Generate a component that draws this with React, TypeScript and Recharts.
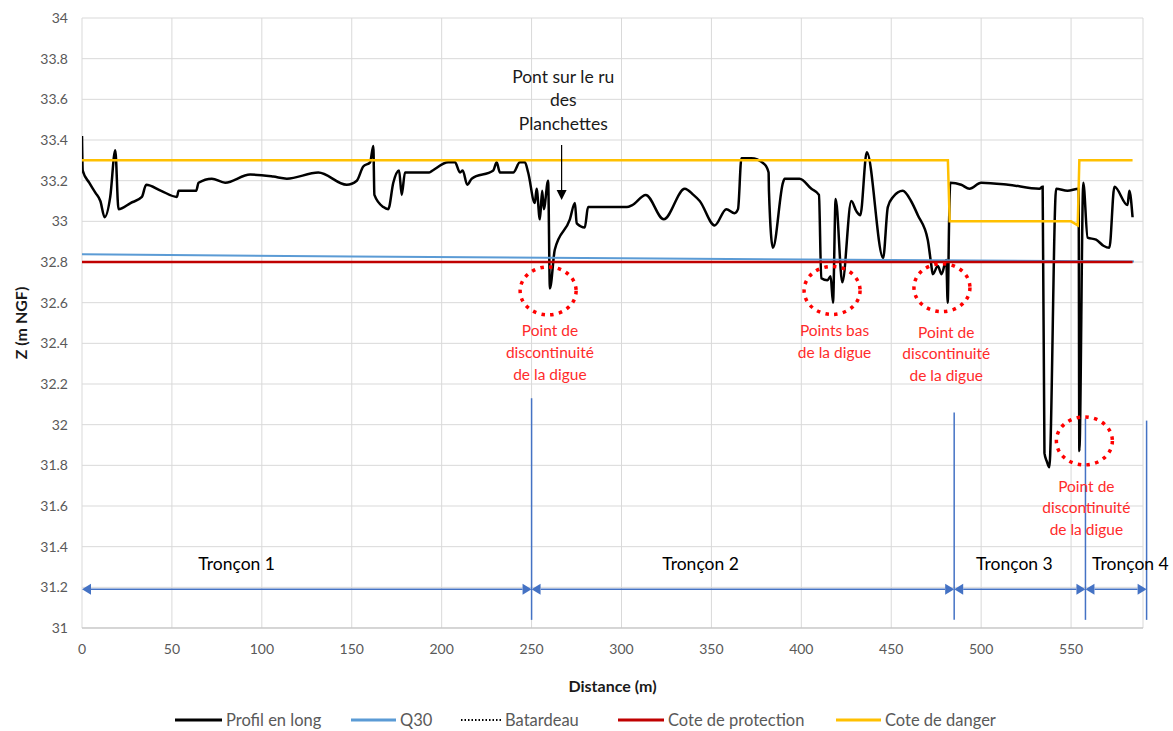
import React from "react";
import {
  LineChart,
  Line,
  XAxis,
  YAxis,
  CartesianGrid,
  ReferenceLine,
  ReferenceDot,
} from "recharts";

// ---------- DATA ----------
const xTicks = [0, 50, 100, 150, 200, 250, 300, 350, 400, 450, 500, 550];
const yTicks = [31, 31.2, 31.4, 31.6, 31.8, 32, 32.2, 32.4, 32.6, 32.8, 33, 33.2, 33.4, 33.6, 33.8, 34];

const profilDistance = [
  0, 0.4, 4, 7.5, 10.2, 12.6, 15.7, 18.5, 20.3, 27, 33.3, 35.7, 44, 52.8, 53.7, 63.5, 64.8, 72.2, 79.6,
  93.5, 106.3, 113.9, 131.4, 147.2, 152.8, 156.4, 160.2, 162.0, 162.6, 167.6, 170.3, 173.1, 176.3,
  177.8, 179.6, 193.1, 195.0, 203.7, 207.4, 210.2, 211.7, 214.2, 216.7, 228.7, 230.6, 232.4, 239.8,
  243.5, 246.3, 248.1, 251.8, 252.8, 254.6, 255.9, 256.8, 259.2, 260.2, 262.9, 271.3, 274.1, 275.1,
  279.6, 281.4, 303.0, 306, 313.5, 323.5, 335.2, 340, 343.5, 351.8, 358.3, 362.9, 364.8, 366.7,
  372.2, 379.6, 381.8, 382.0, 384.2, 389.8, 390.7, 399.0, 405.6, 409.8, 411.1, 414.5, 416.3, 417.6,
  419.1, 422.8, 427.8, 430.6, 432.8, 436.4, 445.5, 448.1, 451, 456.4, 461, 464.8, 470.3, 472.2,
  473.1, 475.9, 478, 480.6, 481.4, 482.2, 482.8, 488.9, 493.5, 500.0, 515, 532.4, 534.2, 535.2,
  536.5, 537.9, 541.7, 548, 554.2, 554.6, 556.8, 559.2, 563.9, 568, 571.3, 574.1, 581.4, 582.4, 584.2,
];
const profilZ = [
  33.42, 33.25, 33.19, 33.14, 33.1, 33.02, 33.12, 33.35, 33.06, 33.09, 33.12, 33.18, 33.15, 33.12, 33.15, 33.15, 33.19, 33.21, 33.19,
  33.23, 33.22, 33.21, 33.24, 33.18, 33.2, 33.27, 33.29, 33.37, 33.13, 33.07, 33.06, 33.19, 33.25,
  33.13, 33.24, 33.24, 33.25, 33.29, 33.29, 33.24, 33.25, 33.18, 33.21, 33.25, 33.29, 33.24, 33.24,
  33.29, 33.29, 33.24, 33.09, 33.16, 33.01, 33.15, 33.06, 33.2, 32.67, 32.86, 33.01, 33.09, 32.99,
  32.97, 33.07, 33.07, 33.08, 33.13, 33.01, 33.16, 33.13, 33.1, 32.98, 33.06, 33.04, 33.06, 33.31,
  33.31, 33.28, 33.24, 33.15, 32.87, 33.19, 33.21, 33.21, 33.16, 33.13, 32.72, 32.71, 32.73, 32.6,
  33.11, 32.7, 33.1, 33.05, 33.03, 33.34, 32.82, 33.07, 33.12, 33.15, 33.1, 33.03, 32.91, 32.79,
  32.74, 32.78, 32.74, 32.81, 32.6, 33.01, 33.19, 33.18, 33.16, 33.19, 33.18, 33.16, 33.17, 31.86,
  31.82, 31.79, 33.16, 33.15, 33.16, 31.87, 33.19, 32.92, 32.91, 32.88, 32.87, 33.17, 33.08, 33.15, 33.02,
];

const q30Distance = [0, 150, 300, 450, 585];
const q30Z = [32.838, 32.827, 32.818, 32.81, 32.803];

const batardeauDistance: number[] = [];
const batardeauZ: number[] = [];

const protectionDistance = [0, 584.2];
const protectionZ = [32.8, 32.8];

const dangerDistance = [0, 481.5, 482.5, 550, 553.7, 554.6, 584.2];
const dangerZ = [33.3, 33.3, 33.0, 33.0, 32.98, 33.3, 33.3];

const seriesNames = ["Profil en long", "Q30", "Batardeau", "Cote de protection", "Cote de danger"];

// Sections (tronçons)
const sectionBounds = [0, 250, 485, 558, 592];
const sectionTops = [32.13, 32.06, 32.03, 32.02];
const sectionNames = ["Tronçon 1", "Tronçon 2", "Tronçon 3", "Tronçon 4"];
const sectionLabelX = [86, 344, 518.5, 583];

// Annotations
const circleX = [259.2, 417.1, 478.2, 557.4];
const circleZ = [32.658, 32.66, 32.674, 31.92];
const redNoteX = [260.2, 418.5, 480.6, 558.5];
const redNoteZ = [32.465, 32.465, 32.457, 31.7];
const redNoteText = [
  ["Point de", "discontinuité", "de la digue"],
  ["Points bas", "de la digue"],
  ["Point de", "discontinuité", "de la digue"],
  ["Point de", "discontinuité", "de la digue"],
];
const bridgeText = ["Pont sur le ru", "des", "Planchettes"];
const bridgeX = 267.6;
const bridgeZ = 33.715;
const bridgeArrowX = 266.7;
const bridgeArrowZ = [33.375, 33.105];

// ---------- HELPERS ----------
const zip = (xs: number[], ys: number[]) => xs.map((x, i) => ({ x, y: ys[i] }));

const FONT = "Lato, 'Liberation Sans', Arial, sans-serif";
const BLUE = "#4472C4";

const textShape =
  (lines: string[], color: string, size: number, spacing: string) =>
  (p: any) => (
    <text
      x={p.cx}
      y={p.cy}
      textAnchor="middle"
      dominantBaseline="central"
      fill={color}
      fontSize={size}
      fontFamily={FONT}
    >
      {lines.map((l, i) => (
        <tspan key={i} x={p.cx} dy={i === 0 ? 0 : spacing}>
          {l}
        </tspan>
      ))}
    </text>
  );

const ellipseShape = (p: any) => (
  <ellipse
    cx={p.cx}
    cy={p.cy}
    rx={28}
    ry={24}
    fill="none"
    stroke="#FF0000"
    strokeWidth={3.5}
    strokeDasharray="3.5 5.3"
  />
);

const doubleArrow = (p: any) => {
  const { x1, y1, x2, y2 } = p;
  const h = 9;
  const w = 5.5;
  return (
    <g>
      <line x1={x1 + h} y1={y1} x2={x2 - h} y2={y2} stroke={BLUE} strokeWidth={1.5} />
      <polygon points={`${x1},${y1} ${x1 + h},${y1 - w} ${x1 + h},${y1 + w}`} fill={BLUE} />
      <polygon points={`${x2},${y2} ${x2 - h},${y2 - w} ${x2 - h},${y2 + w}`} fill={BLUE} />
    </g>
  );
};

const downArrow = (p: any) => {
  const { x1, y1, x2, y2 } = p;
  const h = 10;
  const w = 5;
  return (
    <g>
      <line x1={x1} y1={y1} x2={x2} y2={y2 - h} stroke="#000" strokeWidth={1.2} />
      <polygon points={`${x2},${y2} ${x2 - w},${y2 - h} ${x2 + w},${y2 - h}`} fill="#000" />
    </g>
  );
};

const legendItems = [
  { name: seriesNames[0], color: "#000000", dash: undefined as string | undefined, left: 175, iconW: 47 },
  { name: seriesNames[1], color: "#5B9BD5", dash: undefined, left: 351, iconW: 45 },
  { name: seriesNames[2], color: "#000000", dash: "1.5 2", left: 461, iconW: 40 },
  { name: seriesNames[3], color: "#C00000", dash: undefined, left: 618, iconW: 46 },
  { name: seriesNames[4], color: "#FFC000", dash: undefined, left: 836, iconW: 45 },
];

export default function App() {
  return (
    <div
      style={{
        position: "absolute",
        left: 0,
        top: 0,
        width: 1173,
        height: 731,
        background: "#fff",
        fontFamily: FONT,
      }}
    >
      <LineChart width={1173} height={731} margin={{ top: 18, right: 30, bottom: 0, left: 0 }}>
        <CartesianGrid stroke="#D9D9D9" strokeWidth={1} />
        <XAxis
          type="number"
          dataKey="x"
          domain={[0, 590]}
          ticks={xTicks}
          allowDataOverflow
          height={103}
          tickLine={false}
          tickMargin={10}
          axisLine={{ stroke: "#BFBFBF", strokeWidth: 1 }}
          tick={{ fill: "#595959", fontSize: 14, fontFamily: FONT }}
          label={{
            value: "Distance (m)",
            position: "insideTop",
            offset: 53,
            style: { fontWeight: 700, fontSize: 16, fill: "#1a1a1a", fontFamily: FONT },
          }}
        />
        <YAxis
          type="number"
          domain={[31, 34]}
          ticks={yTicks}
          allowDataOverflow
          width={82}
          tickLine={false}
          tickMargin={8}
          axisLine={false}
          tick={{ fill: "#595959", fontSize: 14, fontFamily: FONT }}
          label={{
            value: "Z (m NGF)",
            angle: -90,
            position: "insideLeft",
            offset: 21,
            style: { textAnchor: "middle", fontWeight: 700, fontSize: 16, fill: "#1a1a1a", fontFamily: FONT },
          }}
        />

        <Line
          data={zip(profilDistance, profilZ)}
          dataKey="y"
          name={seriesNames[0]}
          type="monotone"
          stroke="#000000"
          strokeWidth={2.5}
          dot={false}
          isAnimationActive={false}
        />
        <Line
          data={zip(q30Distance, q30Z)}
          dataKey="y"
          name={seriesNames[1]}
          type="linear"
          stroke="#5B9BD5"
          strokeWidth={2}
          dot={false}
          isAnimationActive={false}
        />
        <Line
          data={zip(batardeauDistance, batardeauZ)}
          dataKey="y"
          name={seriesNames[2]}
          type="linear"
          stroke="#000000"
          strokeDasharray="1.5 2"
          strokeWidth={2}
          dot={false}
          isAnimationActive={false}
        />
        <Line
          data={zip(protectionDistance, protectionZ)}
          dataKey="y"
          name={seriesNames[3]}
          type="linear"
          stroke="#C00000"
          strokeWidth={2.5}
          dot={false}
          isAnimationActive={false}
        />
        <Line
          data={zip(dangerDistance, dangerZ)}
          dataKey="y"
          name={seriesNames[4]}
          type="linear"
          stroke="#FFC000"
          strokeWidth={2.5}
          dot={false}
          isAnimationActive={false}
        />

        {/* Section boundaries */}
        {sectionBounds.slice(1).map((b, i) => (
          <ReferenceLine
            key={"v" + i}
            segment={[
              { x: b, y: 31.04 },
              { x: b, y: sectionTops[i] },
            ]}
            stroke={BLUE}
            strokeWidth={1.5}
            ifOverflow="visible"
          />
        ))}
        {sectionNames.map((n, i) => (
          <ReferenceLine
            key={"a" + i}
            segment={[
              { x: sectionBounds[i], y: 31.19 },
              { x: sectionBounds[i + 1], y: 31.19 },
            ]}
            ifOverflow="visible"
            shape={doubleArrow}
          />
        ))}
        {sectionNames.map((n, i) => (
          <ReferenceDot
            key={"t" + i}
            x={sectionLabelX[i]}
            y={31.32}
            r={0}
            ifOverflow="visible"
            shape={textShape([n], "#000", 17.5, "1.3em")}
          />
        ))}

        {/* Red annotations */}
        {circleX.map((cx, i) => (
          <ReferenceDot key={"c" + i} x={cx} y={circleZ[i]} r={0} ifOverflow="visible" shape={ellipseShape} />
        ))}
        {redNoteText.map((lines, i) => (
          <ReferenceDot
            key={"r" + i}
            x={redNoteX[i]}
            y={redNoteZ[i]}
            r={0}
            ifOverflow="visible"
            shape={textShape(lines, "#FF2B2B", 15.5, "1.4em")}
          />
        ))}

        {/* Bridge annotation */}
        <ReferenceDot
          x={bridgeX}
          y={bridgeZ}
          r={0}
          ifOverflow="visible"
          shape={textShape(bridgeText, "#1a1a1a", 17.5, "1.33em")}
        />
        <ReferenceLine
          segment={[
            { x: bridgeArrowX, y: bridgeArrowZ[0] },
            { x: bridgeArrowX, y: bridgeArrowZ[1] },
          ]}
          ifOverflow="visible"
          shape={downArrow}
        />
      </LineChart>

      {/* Legend */}
      {legendItems.map((it) => (
        <div
          key={it.name}
          style={{
            position: "absolute",
            left: it.left,
            top: 709,
            height: 22,
            display: "flex",
            alignItems: "center",
            whiteSpace: "nowrap",
          }}
        >
          <svg width={it.iconW} height={6} style={{ marginRight: 4 }}>
            <line
              x1={0}
              y1={3}
              x2={it.iconW}
              y2={3}
              stroke={it.color}
              strokeWidth={it.dash ? 2 : 3}
              strokeDasharray={it.dash}
            />
          </svg>
          <span style={{ fontSize: 16.5, color: "#595959", fontFamily: FONT }}>{it.name}</span>
        </div>
      ))}
    </div>
  );
}
